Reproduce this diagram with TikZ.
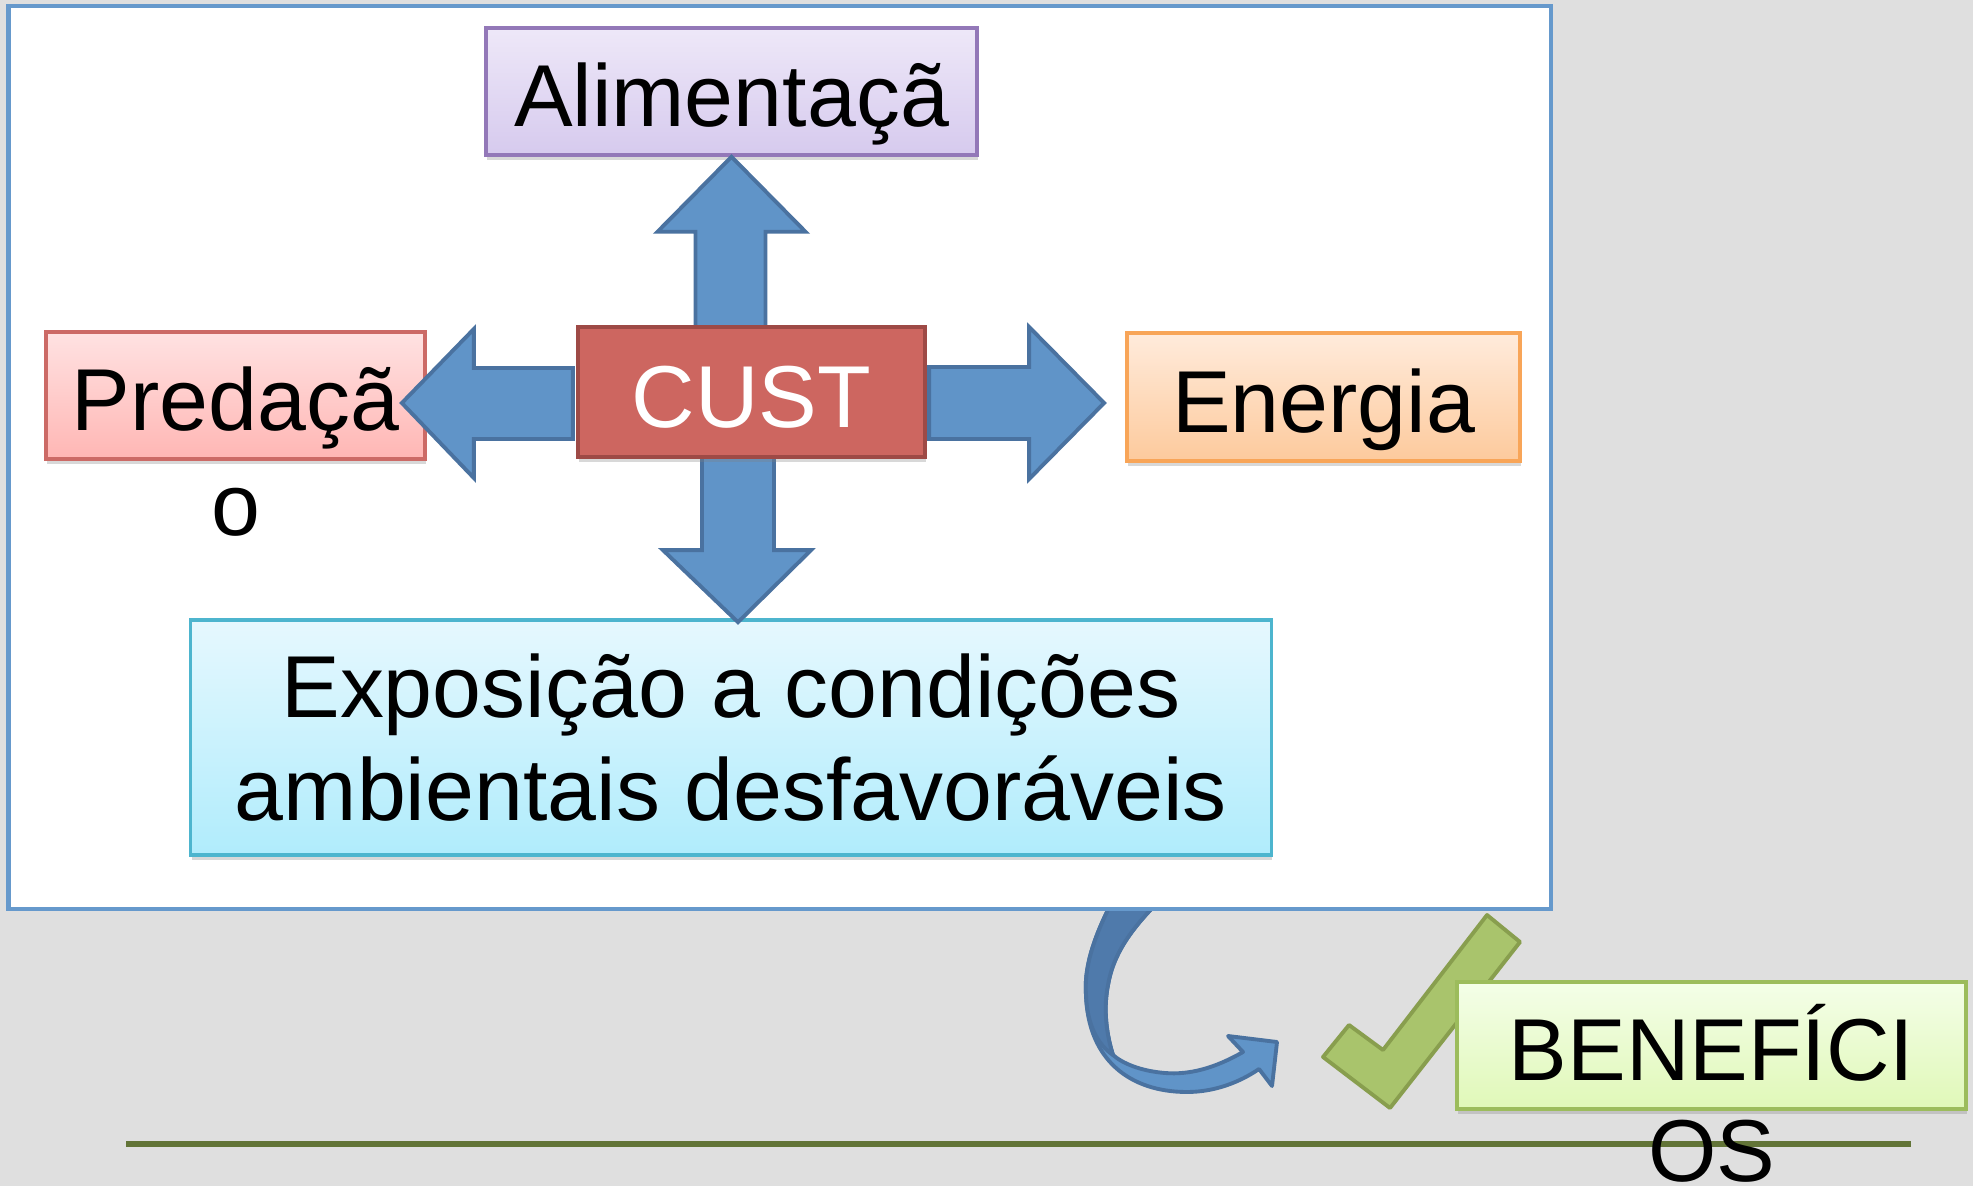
\documentclass[tikz,border=0pt]{standalone}
\usepackage{fontspec}
\setmainfont{Liberation Sans}
\usetikzlibrary{positioning,calc,shadows}
\definecolor{bggray}{HTML}{DFDFDF}
\definecolor{panelblue}{HTML}{6699CC}
\definecolor{arrowfill}{HTML}{6094C8}
\definecolor{arrowline}{HTML}{4A72A0}
\definecolor{arrowdark}{HTML}{4F7AAB}
\definecolor{custfill}{HTML}{CD6660}
\definecolor{custline}{HTML}{9E4A46}
\definecolor{checkfill}{HTML}{A9C46C}
\definecolor{checkline}{HTML}{889E4E}
\definecolor{groundline}{HTML}{627437}
\definecolor{alimline}{HTML}{9378B8}
\definecolor{alimtop}{HTML}{EEE8F8}
\definecolor{alimbot}{HTML}{D6CAEE}
\definecolor{predline}{HTML}{CC6A66}
\definecolor{predtop}{HTML}{FFE2E2}
\definecolor{predbot}{HTML}{FFB6B4}
\definecolor{enerline}{HTML}{F8A558}
\definecolor{enertop}{HTML}{FFEBDC}
\definecolor{enerbot}{HTML}{FDCA9C}
\definecolor{expoline}{HTML}{4DB5CE}
\definecolor{expotop}{HTML}{E6F8FE}
\definecolor{expobot}{HTML}{B0ECFC}
\definecolor{beneline}{HTML}{9CBC5C}
\definecolor{benetop}{HTML}{F4FEE8}
\definecolor{benebot}{HTML}{E0F8B8}
\tikzset{
    panel/.style={draw=panelblue, line width=1.4pt, fill=white},
    box/.style={rectangle, draw, line width=1pt, inner sep=0pt,
        font=\fontsize{25}{29.3}\selectfont,
        drop shadow={shadow xshift=0.01cm, shadow yshift=-0.05cm, opacity=0.3}},
    onebox/.style={box, text height=20pt, text depth=0pt},
    alimbox/.style={onebox, draw=alimline, top color=alimtop, bottom color=alimbot,
        minimum width=4.91cm, minimum height=1.27cm},
    predbox/.style={onebox, draw=predline, top color=predtop, bottom color=predbot,
        minimum width=3.79cm, minimum height=1.27cm},
    custbox/.style={onebox, draw=custline, fill=custfill, text=white, line width=1.1pt, drop shadow={opacity=0},
        minimum width=3.47cm, minimum height=1.30cm},
    enerbox/.style={onebox, draw=enerline, top color=enertop, bottom color=enerbot,
        minimum width=3.93cm, minimum height=1.28cm},
    expobox/.style={box, align=center, draw=expoline, top color=expotop, bottom color=expobot,
        minimum width=10.80cm, minimum height=2.35cm},
    benebox/.style={onebox, draw=beneline, top color=benetop, bottom color=benebot,
        minimum width=5.09cm, minimum height=1.27cm},
    spill/.style={font=\fontsize{25}{29.3}\selectfont, inner sep=0pt, anchor=base},
    blockarrow/.style={draw=arrowline, fill=arrowfill, line width=1.1pt, line join=miter},
    turnarrow/.style={draw=arrowline, line width=1.1pt, line join=round},
    checkmark/.style={draw=checkline, fill=checkfill, line width=1.1pt, line join=round},
    ground/.style={draw=groundline, line width=1.7pt},
}
\begin{document}
\begin{tikzpicture}[x=0.01cm, y=-0.01cm]
    \useasboundingbox (0,0) rectangle (1973,1186);
    \fill[bggray] (0,0) rectangle (1973,1186);
    \draw[turnarrow, fill=arrowfill] (1113,900) .. controls (1092,940) and (1084,970) .. (1086,995)
        .. controls (1088,1060) and (1130,1092) .. (1187,1092)
        .. controls (1215,1092) and (1240,1082) .. (1259,1069)
        -- (1272,1086) -- (1277,1042) -- (1228,1036) -- (1243,1052)
        .. controls (1215,1068) and (1190,1075) .. (1165,1073)
        .. controls (1140,1071) and (1122,1063) .. (1113,1055)
        .. controls (1105,1030) and (1104,1005) .. (1108,985)
        .. controls (1113,955) and (1130,930) .. (1160,900) -- cycle;
    \draw[turnarrow, fill=arrowdark] (1113,900) .. controls (1092,940) and (1084,970) .. (1086,995)
        .. controls (1087,1025) and (1098,1045) .. (1113,1055)
        .. controls (1105,1030) and (1104,1005) .. (1108,985)
        .. controls (1113,955) and (1130,930) .. (1160,900) -- cycle;
    \draw[panel] (8.5,6) rectangle (1551,909);
    \draw[checkmark] (1487,915) -- (1520,942) -- (1390,1108) -- (1323,1057) -- (1349,1025) -- (1383,1050) -- cycle;
    \node[alimbox] (alim) at (731.5,91.5) {Alimentaçã};
    \node[predbox] (pred) at (235.5,395.5) {Predaçã};
    \node[spill] (predo) at ([yshift=-1.05cm]pred.base) {o};
    \node[enerbox] (ener) at (1323.5,397) {Energia};
    \node[expobox] (expo) at (731,737.5) {Exposição a condições\\ambientais desfavoráveis};
    \draw[blockarrow] (alim.south) -- ++(74,75) -- ++(-40,0) -- ++(0,96) -- ++(-70,0) -- ++(0,-96) -- ++(-38,0) -- cycle;
    \draw[blockarrow] ([xshift=-0.25cm, yshift=-0.075cm]pred.east) -- ++(72,-74) -- ++(0,39) -- ++(99,0) -- ++(0,71) -- ++(-99,0) -- ++(0,39) -- cycle;
    \draw[blockarrow] ([xshift=-0.21cm, yshift=-0.06cm]ener.west) -- ++(-75,-76) -- ++(0,40) -- ++(-100,0) -- ++(0,72) -- ++(100,0) -- ++(0,40) -- cycle;
    \draw[blockarrow] ([xshift=0.07cm, yshift=-0.04cm]expo.north) -- ++(-75,-72) -- ++(39,0) -- ++(0,-95) -- ++(72,0) -- ++(0,95) -- ++(37,0) -- cycle;
    \node[custbox] (cust) at (751.5,392) {CUST};
    \draw[ground] (126,1144) -- (1911,1144);
    \node[benebox] (bene) at (1711.5,1045.5) {BENEFÍCI};
    \node[spill] (beneos) at ([yshift=-1.01cm]bene.base) {OS};
\end{tikzpicture}
\end{document}
